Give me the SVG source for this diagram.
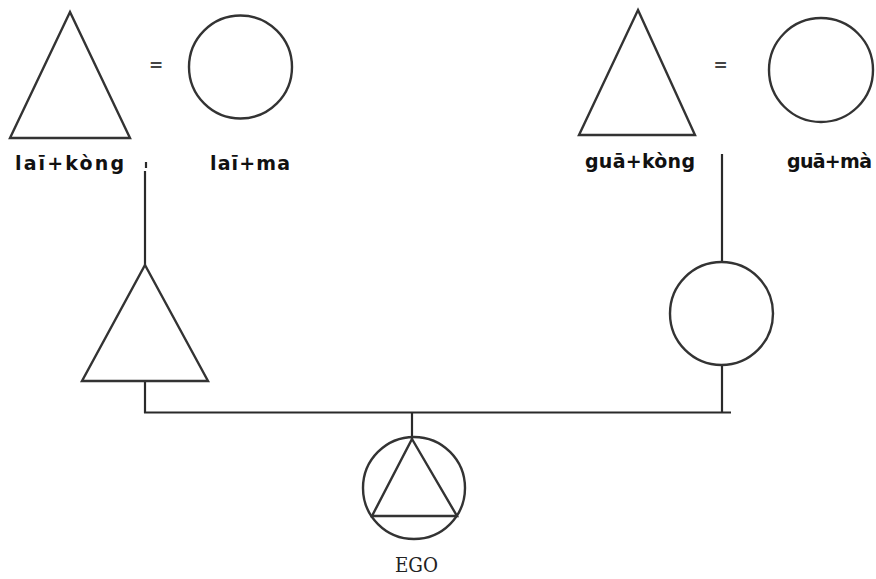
<svg xmlns="http://www.w3.org/2000/svg" width="876" height="579" viewBox="0 0 876 579">
<style>
.s{fill:none;stroke:#333;stroke-width:2.4;stroke-linejoin:miter}
.l{fill:none;stroke:#2a2a2a;stroke-width:2.2}
.t{font-family:"DejaVu Sans",sans-serif;font-weight:bold;font-size:19px;fill:#111}
.e{font-family:"DejaVu Sans",sans-serif;font-weight:bold;font-size:17px;fill:#444}
.ego{font-family:"DejaVu Serif","Liberation Serif",serif;font-size:21px;fill:#222}
</style>
<rect width="876" height="579" fill="#fff"/>
<g id="connectors">
<line class="l" x1="146" y1="162" x2="146" y2="168" stroke-width="1.2"/>
<line class="l" x1="145" y1="171" x2="145" y2="265" stroke="#000" stroke-width="2.4"/>
<line class="l" x1="145" y1="382" x2="145" y2="413"/>
<line class="l" x1="722" y1="154" x2="722" y2="262"/>
<line class="l" x1="722" y1="365" x2="722" y2="412"/>
<line class="l" x1="144" y1="412.5" x2="731" y2="412.5"/>
<line class="l" x1="412" y1="412" x2="412" y2="439"/>
</g>
<g id="lai-kong">
<polygon class="s" points="70,12 130,138 10,138"/>
<text class="t" x="15" y="170" textLength="109" lengthAdjust="spacing">laī+kòng</text>
</g>
<g id="lai-marriage"><text class="e" x="156" y="71" text-anchor="middle">=</text></g>
<g id="lai-ma">
<circle class="s" cx="240.5" cy="67" r="51.5"/>
<text class="t" x="210" y="170" textLength="80" lengthAdjust="spacing">laī+ma</text>
</g>
<g id="gua-kong">
<polygon class="s" points="638,10 695,135 579,135"/>
<text class="t" x="585" y="168" textLength="110" lengthAdjust="spacing">guā+kòng</text>
</g>
<g id="gua-marriage"><text class="e" x="720.5" y="71" text-anchor="middle">=</text></g>
<g id="gua-ma">
<circle class="s" cx="821" cy="70" r="52"/>
<text class="t" x="787" y="168" textLength="85" lengthAdjust="spacing">guā+mà</text>
</g>
<g id="father">
<polygon class="s" points="145,265 208,381 82,381"/>
</g>
<g id="mother">
<circle class="s" cx="721.5" cy="313.5" r="51.5"/>
</g>
<g id="ego">
<circle class="s" cx="414" cy="488" r="51"/>
<polygon class="s" points="412,439 457,516 372,516"/>
<text class="ego" x="395" y="572" textLength="43" lengthAdjust="spacingAndGlyphs">EGO</text>
</g>
</svg>
